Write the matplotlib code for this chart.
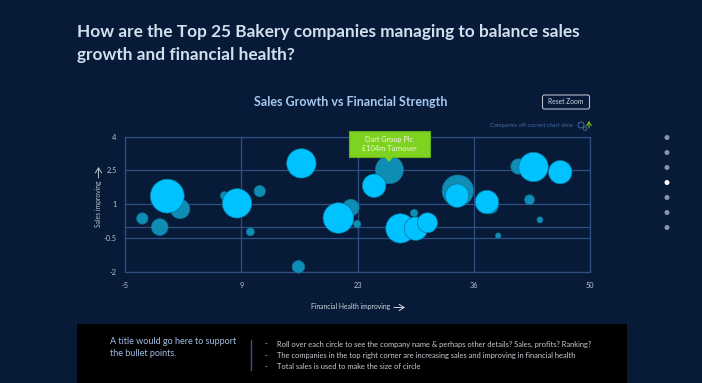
import matplotlib
matplotlib.use('Agg')
import matplotlib.pyplot as plt
from matplotlib.patches import Rectangle, FancyBboxPatch, Polygon, Circle

plt.rcParams['font.family'] = ['Lato', 'DejaVu Sans']

# companies that sit behind the highlighted ones
dim_health = [-2.95, -0.89, 1.51, 6.75, 9.83, 10.94, 15.51, 21.71, 22.46, 26.28, 29.2, 34.37, 38.2, 41.54, 42.85, 44.08, 39.14]
dim_sales = [0.37, -0.01, 0.79, 1.38, -0.22, 1.58, -1.77, 0.85, 0.12, 2.53, 0.61, 1.6, 0.93, 2.67, 1.2, 0.31, -0.39]
dim_turnover = [17, 37, 50, 8.5, 8.5, 17, 21, 37, 7.3, 104, 7.3, 131, 34, 31, 13, 4.8, 3.9]

# bright companies
top_health = [0.0, 8.25, 15.86, 20.24, 24.47, 27.58, 29.4, 30.78, 34.29, 37.8, 43.32, 46.48]
top_sales = [1.36, 1.04, 2.81, 0.39, 1.82, -0.07, -0.08, 0.18, 1.38, 1.1, 2.65, 2.42]
top_turnover = [153, 115, 115, 124, 73, 115, 73, 53, 73, 73, 115, 73]

x_ticks = [-5, 8.75, 22.5, 36.25, 50]
x_labels = ['-5', '9', '23', '36', '50']
y_ticks = [-2, -0.5, 0, 1, 2.5, 4]
y_labels = ['-2', '-0.5', '', '1', '2.5', '4']
dot_rows = [137.5, 152.5, 167.5, 182.5, 197.5, 212.5, 227.5]
bullets = ['Roll over each circle to see the company name & perhaps other details? Sales, profits? Ranking?',
           'The companies in the top right corner are increasing sales and improving in financial health',
           'Total sales is used to make the size of circle']

BG = '#071a38'
GRID = '#2f4f80'
W, H = 702, 383


def arrow(a, start, end, color, scale=8):
    style = '->,head_length=0.45,head_width=0.28'
    a.annotate('', xy=end, xytext=start,
               arrowprops=dict(arrowstyle=style, color=color, lw=0.7, mutation_scale=scale, shrinkA=0, shrinkB=0))


fig = plt.figure(figsize=(W / 100, H / 100), dpi=100, facecolor=BG)

# chart
ax = fig.add_axes([125 / W, 1 - 272 / H, 465 / W, 135.5 / H], facecolor=BG, zorder=1)
ax.set_xlim(-5, 50)
ax.set_ylim(-2, 4)
ax.set_xticks(x_ticks, x_labels)
ax.set_yticks(y_ticks, y_labels)
ax.grid(True, color=GRID, lw=0.9)
ax.set_axisbelow(True)
ax.tick_params(length=0, labelsize=5.3, labelcolor='#b9c2cf', pad=6)
ax.tick_params(axis='x', pad=7.5)
for s in ax.spines.values():
    s.set_color(GRID)
    s.set_linewidth(0.9)

ax.scatter(dim_health, dim_sales, s=[t * 3.9 for t in dim_turnover], color='#0f8db5',
           edgecolor='#0b7499', lw=0.5, clip_on=False, zorder=3)
ax.scatter(top_health, top_sales, s=[t * 3.9 for t in top_turnover], color='#00c2ff',
           edgecolor='#0b7499', lw=0.5, clip_on=False, zorder=4)

# everything else in pixel coordinates
ov = fig.add_axes([0, 0, 1, 1], zorder=2)
ov.set_xlim(0, W)
ov.set_ylim(H, 0)
ov.axis('off')

ov.text(77, 32.5, 'How are the Top 25 Bakery companies managing to balance sales', color='#d3dfef',
        fontsize=12.45, fontweight='bold', va='center')
ov.text(77, 55, 'growth and financial health?', color='#d3dfef', fontsize=12.45, fontweight='bold', va='center')
ov.text(351, 102, 'Sales Growth vs Financial Strength', color='#a9c8ef', fontsize=9,
        fontweight='bold', ha='center', va='center')

ov.add_patch(FancyBboxPatch((542.5, 95), 47, 14, boxstyle='round,pad=0,rounding_size=2',
                            fc='none', ec='#b4bcc8', lw=0.8))
ov.text(566, 102, 'Reset Zoom', color='#d3dae4', fontsize=4.8, ha='center', va='center')

ov.text(572.5, 125, 'Companies off current chart view', color='#44699e', fontsize=4.1, ha='right', va='center')
ov.add_patch(Circle((581, 125), 3, fc='none', ec='#44699e', lw=0.7))
ov.add_patch(Circle((585, 128.5), 1.8, fc='none', ec='#44699e', lw=0.7))
arrow(ov, (589, 128), (589, 121), '#7fd11b', 6)

# tooltip
ov.add_patch(Rectangle((348.5, 130.7), 81, 26.5, fc='#7ed321', ec='#67ad1a', lw=0.8))
ov.add_patch(Polygon([[385, 157], [393, 157], [389, 162]], fc='#7ed321', ec='none'))
ov.text(389, 139.5, 'Dart Group Plc', color='#eef6e0', fontsize=5.3, ha='center', va='center')
ov.text(389, 148.5, '£104m Turnover', color='#eef6e0', fontsize=5.3, ha='center', va='center')

# axis names
ov.text(98.5, 204, 'Sales improving', color='#b9c2cf', fontsize=4.9, rotation=90, ha='center', va='center')
arrow(ov, (98.5, 178), (98.5, 167), '#b9c2cf')
ov.text(351, 307, 'Financial Health improving', color='#d0d6de', fontsize=4.9, ha='center', va='center')
arrow(ov, (394, 307.5), (405, 307.5), '#d0d6de')

# side nav
for i, y in enumerate(dot_rows):
    ov.add_patch(Circle((667, y), 2.5, fc='white' if i == 3 else '#8a94a6', ec='none'))

# bottom panel
ov.add_patch(Rectangle((77, 324), 550, 59, fc='#000000', ec='none'))
ov.text(110, 342, 'A title would go here to support', color='#a3bfe4', fontsize=6.5, va='center')
ov.text(110, 354, 'the bullet points.', color='#a3bfe4', fontsize=6.5, va='center')
ov.plot([251, 251], [340, 370], color='#3d557c', lw=1)
for y, b in zip([344, 355.5, 366.5], bullets):
    ov.text(265, y, '-', color='#c7ccd3', fontsize=5.4, va='center')
    ov.text(277, y, b, color='#c7ccd3', fontsize=5.45, va='center')

fig.savefig('out.png', dpi=100, facecolor=BG)
